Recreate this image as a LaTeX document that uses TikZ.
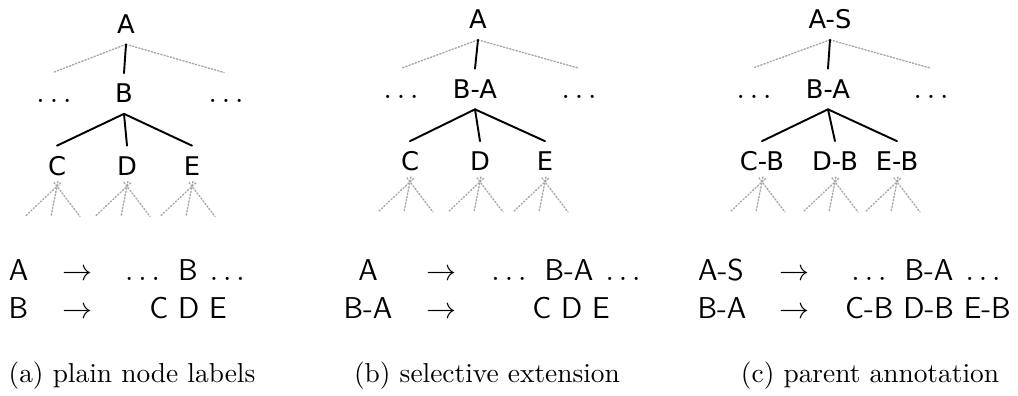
\documentclass[tikz,border=0pt]{standalone}
\usepackage{fontspec}
\newfontfamily\treefont{DejaVu Sans}
\usetikzlibrary{calc}

\tikzset{
  treenode/.style={font=\treefont\fontsize{9.4pt}{11pt}\selectfont, text height=6.85pt, text depth=0pt, inner xsep=1pt, inner ysep=3.8pt},
  dotsnode/.style={treenode, font=\fontsize{11pt}{13pt}\selectfont},
  branch/.style={line width=0.7pt},
  stub/.style={gray!70, line width=0.5pt, dash pattern=on 0.5pt off 0.7pt},
  leafstub/.style={stub, shorten <=-1.8pt},
  rulenode/.style={font=\sffamily\fontsize{11pt}{13pt}\selectfont, anchor=base, inner sep=0pt},
  capnode/.style={font=\fontsize{10pt}{12pt}\selectfont, anchor=base, inner sep=0pt},
}
\newcommand{\rhsdots}[1]{$\ldots$\hspace{0.6em}#1\hspace{0.4em}$\ldots$}

\begin{document}
\begin{tikzpicture}[x=0.365pt, y=-0.365pt, line cap=round]
  \useasboundingbox (0,0) rectangle (1018,396);

  % 1. Tree (a): plain labels
  \begin{scope}[shift={(0,4.5)}]
    \node[treenode] (aA) at (126,19.5) {A};
    \node[treenode] (aB) at (124,89) {B};
    \node[dotsnode] (aL) at (54,89) {$\ldots$};
    \node[dotsnode] (aR) at (226,89) {$\ldots$};
    \node[treenode] (aC) at (57,161.5) {C};
    \node[treenode] (aD) at (127,161.5) {D};
    \node[treenode] (aE) at (192,161.5) {E};
    \coordinate (aTl) at (53,68);
    \coordinate (aTr) at (224,68);
    \draw[stub] (aA.south) -- (aTl);
    \draw[stub] (aA.south) -- (aTr);
    \draw[branch] (aA.south) -- (aB.north);
    \draw[branch] (aB.south) -- (aC.north);
    \draw[branch] (aB.south) -- (aD.north);
    \draw[branch] (aB.south) -- (aE.north);
    \foreach \kid in {aC,aD,aE} {
      \foreach \dx [count=\i] in {-32,-6,23} {
        \coordinate (\kid-\i) at ($(\kid.south |- 0,212)+(\dx,0)$);
        \draw[leafstub] (\kid.south) -- (\kid-\i);
      }
    }
  \end{scope}

  % 2. Tree (b): only B extended with its parent
  \node[treenode] (bA) at (478,19.5) {A};
  \node[treenode] (bB) at (475,89) {B-A};
  \node[dotsnode] (bL) at (401,89) {$\ldots$};
  \node[dotsnode] (bR) at (579,89) {$\ldots$};
  \node[treenode] (bC) at (410,161.5) {C};
  \node[treenode] (bD) at (480,161.5) {D};
  \node[treenode] (bE) at (545,161.5) {E};
  \coordinate (bTl) at (402,68);
  \coordinate (bTr) at (578,68);
  \draw[stub] (bA.south) -- (bTl);
  \draw[stub] (bA.south) -- (bTr);
  \draw[branch] (bA.south) -- (bB.north);
  \draw[branch] (bB.south) -- (bC.north);
  \draw[branch] (bB.south) -- (bD.north);
  \draw[branch] (bB.south) -- (bE.north);
  \foreach \kid in {bC,bD,bE} {
    \foreach \dx [count=\i] in {-32,-6,23} {
      \coordinate (\kid-\i) at ($(\kid.south |- 0,212)+(\dx,0)$);
      \draw[leafstub] (\kid.south) -- (\kid-\i);
    }
  }

  % 3. Tree (c): every label carries its parent
  \node[treenode] (cA) at (830,19.5) {A-S};
  \node[treenode] (cB) at (828,89) {B-A};
  \node[dotsnode] (cL) at (754,89) {$\ldots$};
  \node[dotsnode] (cR) at (931,89) {$\ldots$};
  \node[treenode] (cC) at (762,161.5) {C-B};
  \node[treenode] (cD) at (835,161.5) {D-B};
  \node[treenode] (cE) at (897,161.5) {E-B};
  \coordinate (cTl) at (753,68);
  \coordinate (cTr) at (930,68);
  \draw[stub] (cA.south) -- (cTl);
  \draw[stub] (cA.south) -- (cTr);
  \draw[branch] (cA.south) -- (cB.north);
  \draw[branch] (cB.south) -- (cC.north);
  \draw[branch] (cB.south) -- (cD.north);
  \draw[branch] (cB.south) -- (cE.north);
  \foreach \kid in {cC,cD,cE} {
    \foreach \dx [count=\i] in {-32,-6,23} {
      \coordinate (\kid-\i) at ($(\kid.south |- 0,212)+(\dx,0)$);
      \draw[leafstub] (\kid.south) -- (\kid-\i);
    }
  }

  % 4. Rules read off each tree
  \node[rulenode] (aLhs1) at (18.5,281) {A};
  \node[rulenode] (aArr1) at (77,281) {$\rightarrow$};
  \node[rulenode] (aRhs1) at (185,281) {\rhsdots{B}};
  \node[rulenode] (aLhs2) at (18.5,319) {B};
  \node[rulenode] (aArr2) at (77,319) {$\rightarrow$};
  \node[rulenode] (aRhs2) at (188,319) {C D E};

  \node[rulenode] (bLhs1) at (368,281) {A};
  \node[rulenode] (bArr1) at (441,281) {$\rightarrow$};
  \node[rulenode] (bRhs1) at (566,281) {\rhsdots{B-A}};
  \node[rulenode] (bLhs2) at (368,319) {B-A};
  \node[rulenode] (bArr2) at (441,319) {$\rightarrow$};
  \node[rulenode] (bRhs2) at (571,319) {C D E};

  \node[rulenode] (cLhs1) at (721,281) {A-S};
  \node[rulenode] (cArr1) at (794,281) {$\rightarrow$};
  \node[rulenode] (cRhs1) at (926,281) {\rhsdots{B-A}};
  \node[rulenode] (cLhs2) at (722,319) {B-A};
  \node[rulenode] (cArr2) at (794,319) {$\rightarrow$};
  \node[rulenode] (cRhs2) at (928,319) {C-B D-B E-B};

  % 5. Captions
  \node[capnode] (capA) at (132,383) {(a) plain node labels};
  \node[capnode] (capB) at (487,383) {(b) selective extension};
  \node[capnode] (capC) at (870,383) {(c) parent annotation};
\end{tikzpicture}
\end{document}
